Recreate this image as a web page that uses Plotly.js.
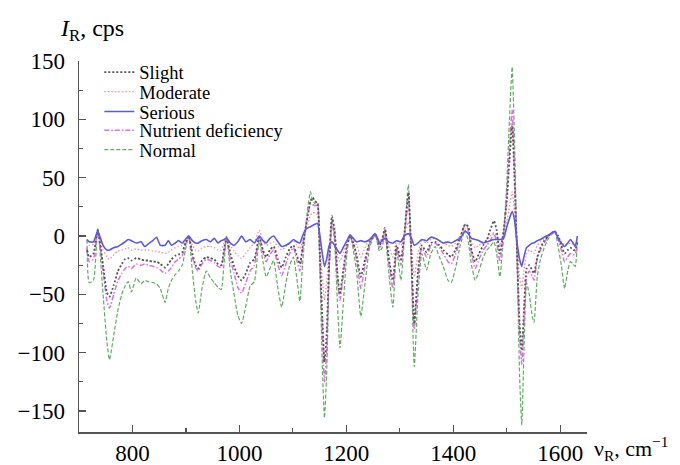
<!DOCTYPE html>
<html><head><meta charset="utf-8">
<script src="https://cdn.plot.ly/plotly-3.0.1.min.js"></script>
<style>html,body{margin:0;padding:0;background:#fff}#chart{width:680px;height:465px}
#chart text{font-family:'Liberation Serif','Times New Roman',serif !important;}</style>
</head><body><div id="chart"></div>
<script>
// Raman shift, cm^-1
const wavenumber = [
715,719,727,735,745,752,757,765,773,780,
786,792,798,807,816,823,829,838,845,852,
861,867,873,880,886,893,899,905,912,918,
923,930,938,946,953,960,966,971,976,983,
990,997,1004,1012,1020,1028,1037,1044,1050,1057,
1064,1072,1079,1087,1094,1101,1107,1113,1118,1123,
1128,1133,1137,1141,1146,1150,1155,1159,1163,1168,
1173,1178,1183,1188,1194,1201,1207,1213,1219,1227,
1235,1244,1254,1262,1267,1272,1279,1287,1294,1302,
1308,1316,1321,1327,1334,1341,1350,1358,1366,1374,
1381,1390,1396,1404,1413,1422,1428,1434,1441,1448,
1456,1463,1469,1476,1481,1487,1494,1500,1505,1510,
1514,1519,1524,1528,1532,1537,1542,1548,1551,1557,
1563,1570,1578,1585,1590,1596,1602,1608,1614,1619,
1624,1628,1632];

const slight = [
-12,-18,-15,5,-25,-48,-52,-42,-30,-24,
-20,-19,-21,-19,-20,-21,-21,-22,-22,-24,
-27,-24,-20,-17,-16,-14,-6,0,-15,-25,
-28,-21,-18,-19,-20,-24,-25,-12,-2,-15,
-26,-34,-38,-32,-23,-20,-1,-12,-18,-12,
-9,-20,-27,-18,-11,-8,-16,-24,-10,5,
18,30,33,30,28,-10,-70,-108,-85,-20,
17,5,-30,-50,-30,-8,0,-6,-16,-35,
-20,-5,2,-8,-3,7,-18,-38,-8,-20,
0,37,-8,-75,-30,-8,-14,-6,-5,-8,
-12,-16,-18,-12,-1,10,8,-12,-22,-15,
-8,-3,5,13,5,-15,5,30,65,95,
55,-12,-75,-98,-65,-28,-25,-30,-32,-18,
-10,-4,0,3,4,0,-8,-15,-12,-10,
-12,-12,-4];

const moderate = [
-5,-8,-7,3,-12,-18,-20,-16,-13,-12,
-11,-10,-12,-11,-12,-12,-12,-13,-13,-14,
-15,-14,-12,-10,-9,-8,-4,0,-8,-12,
-13,-10,-9,-9,-10,-12,-12,-6,0,-8,
-13,-17,-19,-15,-10,-6,5,-4,-8,-6,
-5,-9,-12,-9,-6,-4,-8,-11,-4,3,
10,18,20,20,18,-5,-35,-55,-40,-10,
8,2,-15,-22,-14,-5,0,-3,-8,-18,
-10,-2,1,-4,-2,3,-8,-18,-4,-8,
0,12,-4,-35,-15,-4,-6,-3,-2,-4,
-6,-8,-9,-6,0,6,4,-6,-10,-8,
-5,-3,0,3,0,-8,2,12,25,38,
22,-5,-35,-45,-30,-15,-12,-14,-15,-8,
-5,-2,1,2,3,0,-5,-8,-7,-6,
-7,-7,-2];

const serious = [
-3,-5,-5,4,-8,-12,-12,-10,-9,-7,
-5,-3,-4,-6,-5,-9,-7,-4,-1,-8,
-8,-4,-8,-6,-4,-6,-3,0,-4,-6,
-6,-4,-3,-5,-2,-6,-4,-3,-2,-6,
-8,-5,0,-5,-3,-6,0,-4,-6,-2,
0,-5,-9,-8,-6,-3,-5,-6,0,5,
7,8,9,10,11,2,-15,-26,-20,-8,
-5,-8,-12,-15,-10,-4,1,-2,-5,-4,
-5,-3,2,-6,-4,-2,-5,-6,-4,-5,
0,2,-1,-8,-6,-3,-4,-1,-2,-4,
-6,-5,-6,-4,-2,4,2,-2,-3,-4,
-6,-5,-4,-3,-3,-3,-2,8,15,21,
15,-5,-20,-26,-18,-10,-8,-6,-6,-4,
-3,-1,1,3,4,-2,-6,-9,-6,-3,
-6,-9,0];

const nutrient = [
-10,-22,-20,5,-30,-55,-62,-50,-38,-32,
-28,-26,-28,-24,-25,-24,-25,-26,-27,-29,
-32,-30,-27,-22,-20,-17,-8,0,-18,-27,
-30,-24,-20,-21,-23,-26,-27,-15,-2,-20,
-32,-44,-49,-40,-30,-25,0,-14,-22,-16,
-12,-25,-34,-24,-15,-10,-20,-30,-12,5,
18,28,27,26,26,-15,-80,-125,-100,-25,
12,0,-35,-55,-35,-10,0,-8,-20,-45,
-25,-6,2,-10,-6,5,-22,-45,-10,-25,
-2,30,-15,-80,-35,-10,-18,-8,-6,-10,
-15,-22,-24,-16,-3,10,5,-15,-28,-20,
-12,-8,-4,2,-5,-22,0,35,75,108,
60,-15,-85,-110,-75,-35,-30,-35,-38,-20,
-12,-6,0,2,3,-3,-12,-22,-18,-15,
-16,-16,-5];

const normal = [
-3,-40,-38,7,-50,-90,-106,-85,-63,-50,
-43,-39,-48,-36,-41,-38,-39,-40,-41,-45,
-57,-45,-38,-33,-30,-25,-12,0,-30,-55,
-66,-45,-30,-36,-40,-44,-46,-25,0,-30,
-50,-68,-75,-60,-43,-39,-4,-22,-35,-28,
-21,-45,-61,-40,-25,-18,-35,-56,-25,3,
25,38,30,28,29,-20,-110,-156,-120,-30,
14,-5,-55,-96,-60,-15,1,-12,-30,-69,
-40,-9,1,-13,-10,5,-30,-61,-12,-38,
-5,44,-20,-112,-50,-15,-29,-15,-9,-18,
-26,-38,-40,-28,-8,5,-5,-25,-38,-30,
-18,-12,-9,-5,-15,-35,0,45,100,145,
90,-12,-120,-162,-100,-40,-50,-70,-74,-35,
-20,-10,-2,2,4,-9,-25,-45,-30,-22,
-24,-26,-5];

const seriesNames = ['Slight','Moderate','Serious','Nutrient deficiency','Normal'];
const yTicks = [-150,-100,-50,0,50,100,150];
const xTicks = [800,1000,1200,1400,1600];

const serif = 'Liberation Serif';

function tr(name, y, color, width, dash, legendId) {
  return {
    type: 'scatter', mode: 'lines', name: name, x: wavenumber, y: y,
    line: {color: color, width: width, dash: dash, shape: 'spline', smoothing: 0.5},
    legend: legendId, hoverinfo: 'skip'
  };
}

const data = [
  tr(seriesNames[4], normal,   '#5fae5f', 1.2, '4px,2px', 'legend5'),
  tr(seriesNames[1], moderate, '#f0909c', 1.3, '1.5px,2px', 'legend2'),
  tr(seriesNames[3], nutrient, '#e06ee0', 1.5, '5px,2px,1.5px,2px', 'legend4'),
  tr(seriesNames[0], slight,   '#555555', 1.8, '2px,2px', 'legend'),
  tr(seriesNames[2], serious,  '#5a5ae6', 1.6, 'solid', 'legend3')
];

function leg(y) {
  return {x: 0.04, y: y, xanchor: 'left', yanchor: 'middle',
    bgcolor: 'rgba(0,0,0,0)', borderwidth: 0,
    font: {family: serif, size: 18.5, color: '#000'}};
}

const layout = {
  width: 680, height: 465,
  margin: {l: 79, r: 93, t: 61, b: 33},
  paper_bgcolor: '#fff', plot_bgcolor: '#fff',
  font: {family: serif, size: 23, color: '#000'},
  showlegend: true,
  legend: leg(0.9685),
  legend2: leg(0.9164),
  legend3: leg(0.8625),
  legend4: leg(0.8121),
  legend5: leg(0.7601),
  xaxis: {
    range: [700, 1650], tickmode: 'array', tickvals: xTicks,
    ticks: 'inside', ticklen: 7, tickwidth: 1.3, tickcolor: '#555',
    showline: true, linecolor: '#555', linewidth: 1.5,
    showgrid: false, zeroline: false, ticklabelstandoff: 0,
    minor: {tickmode: 'linear', tick0: 700, dtick: 100, ticks: 'inside', ticklen: 4, tickcolor: '#555', tickwidth: 1.2, showgrid: false},
    tickfont: {family: serif, size: 23, color: '#000'}
  },
  yaxis: {
    range: [-168, 150], tickmode: 'array', tickvals: yTicks,
    ticks: 'inside', ticklen: 7, tickwidth: 1.3, tickcolor: '#555',
    showline: true, linecolor: '#555', linewidth: 1.5,
    showgrid: false, zeroline: false, ticklabelstandoff: 8,
    minor: {tickmode: 'linear', tick0: 0, dtick: 25, ticks: 'inside', ticklen: 4, tickcolor: '#555', tickwidth: 1.2, showgrid: false},
    tickfont: {family: serif, size: 23, color: '#000'}
  },
  annotations: [
    {xref: 'paper', yref: 'paper', x: -0.041, y: 1.084, xanchor: 'left', yanchor: 'middle',
     text: '<i>I</i><sub>R</sub>, cps', showarrow: false, font: {family: serif, size: 24, color: '#000'}},
    {xref: 'paper', yref: 'paper', x: 1.01, y: -0.045, xanchor: 'left', yanchor: 'middle',
     text: 'ν<sub>R</sub>, cm<sup>−1</sup>', showarrow: false, font: {family: serif, size: 22, color: '#000'}}
  ]
};

Plotly.newPlot('chart', data, layout, {staticPlot: true, displayModeBar: false});
</script>
</body></html>
